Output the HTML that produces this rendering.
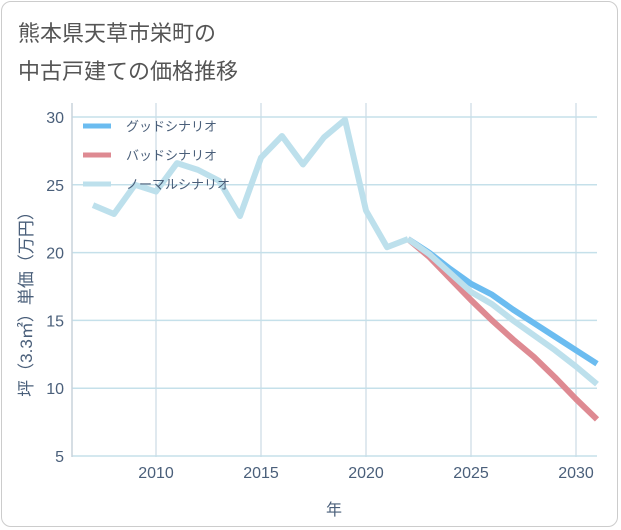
<!DOCTYPE html>
<html><head><meta charset="utf-8"><style>
body{margin:0;background:#fff;font-family:"Liberation Sans","Noto Sans CJK JP",sans-serif}
#frame{position:absolute;left:1px;top:1px;width:617px;height:526px;border:1px solid #ccc;border-radius:10px;box-sizing:border-box}
.t{position:absolute;left:18px;font-size:22px;color:#555}
</style></head><body>
<div id="frame"></div>
<div class="t" style="top:16px">熊本県天草市栄町の</div>
<div class="t" style="top:54px">中古戸建ての価格推移</div>
<svg id="c" width="621" height="530" style="position:absolute;left:0;top:0"></svg>
<script>
const years=[2007,2008,2009,2010,2011,2012,2013,2014,2015,2016,2017,2018,2019,2020,2021,2022];
const normalHist=[23.5,22.85,25,24.5,26.6,26.1,25.3,22.7,27.0,28.6,26.5,28.5,29.8,23.1,20.4,21.0];
const futYears=[2022,2023,2024,2025,2026,2027,2028,2029,2030,2031];
const good=[21.0,20.0,18.8,17.7,16.9,15.8,14.8,13.8,12.8,11.8];
const bad=[21.0,19.7,18.1,16.5,15.0,13.6,12.3,10.8,9.2,7.7];
const normalFut=[21.0,19.9,18.5,17.1,16.2,15.0,13.9,12.8,11.6,10.3];
const xTicks=[2010,2015,2020,2025,2030];
const yTicks=[5,10,15,20,25,30];
const L=72,R=597,T=103,B=457;
const X=y=>156+(y-2010)*21;
const Y=v=>456-(v-5)*13.56;
const svg=document.getElementById('c');const NS='http://www.w3.org/2000/svg';
function mk(t,a,p){const e=document.createElementNS(NS,t);for(const k in a)e.setAttribute(k,a[k]);(p||svg).appendChild(e);return e;}
xTicks.forEach(t=>{const l=mk('line',{x1:X(t),x2:X(t),y1:T,y2:B,stroke:'#d5e2ea','stroke-width':1.5});


const s=mk('text',{x:X(t),y:478,'text-anchor':'middle','font-size':16,fill:'#4a5f7a'});s.textContent=t;

});
yTicks.forEach(t=>{const l=mk('line',{x1:L,x2:R,y1:Y(t),y2:Y(t),stroke:'#c5e0ea','stroke-width':1.5});


const s=mk('text',{x:64,y:Y(t)+6,'text-anchor':'end','font-size':16,fill:'#4a5f7a'});s.textContent=t;

});
const ax=mk('line',{x1:L,x2:L,y1:T,y2:B,stroke:'#c8d3dc','stroke-width':1.5});


function line(xs,vs,col,name){const p=mk('polyline',{points:xs.map((x,i)=>X(x)+','+Y(vs[i])).join(' '),fill:'none',stroke:col,'stroke-width':6,'stroke-linejoin':'round'});

}
line(futYears,good,'#6bbcf0','good-scenario-line');
line(futYears,bad,'#de8a92','bad-scenario-line');
line(futYears,normalFut,'#bde0ec','normal-scenario-forecast-line');
line(years,normalHist,'#bde0ec','normal-scenario-history-line');
const leg=[['グッドシナリオ','#6bbcf0'],['バッドシナリオ','#de8a92'],['ノーマルシナリオ','#bde0ec']];
leg.forEach((g,i)=>{const y=126+i*29;const l=mk('line',{x1:83,x2:111,y1:y,y2:y,stroke:g[1],'stroke-width':5});


const s=mk('text',{x:126,y:y+5,'font-size':13,fill:'#4a5f7a'});s.textContent=g[0];

});
const xt=mk('text',{x:334,y:515,'text-anchor':'middle','font-size':16,fill:'#4a5f7a'});xt.textContent='年';


const yt=mk('text',{x:0,y:0,'text-anchor':'middle','font-size':17,fill:'#4a5f7a',transform:'translate(32,300) rotate(-90)'});yt.textContent='坪（3.3㎡）単価（万円）';


</script>
</body></html>
